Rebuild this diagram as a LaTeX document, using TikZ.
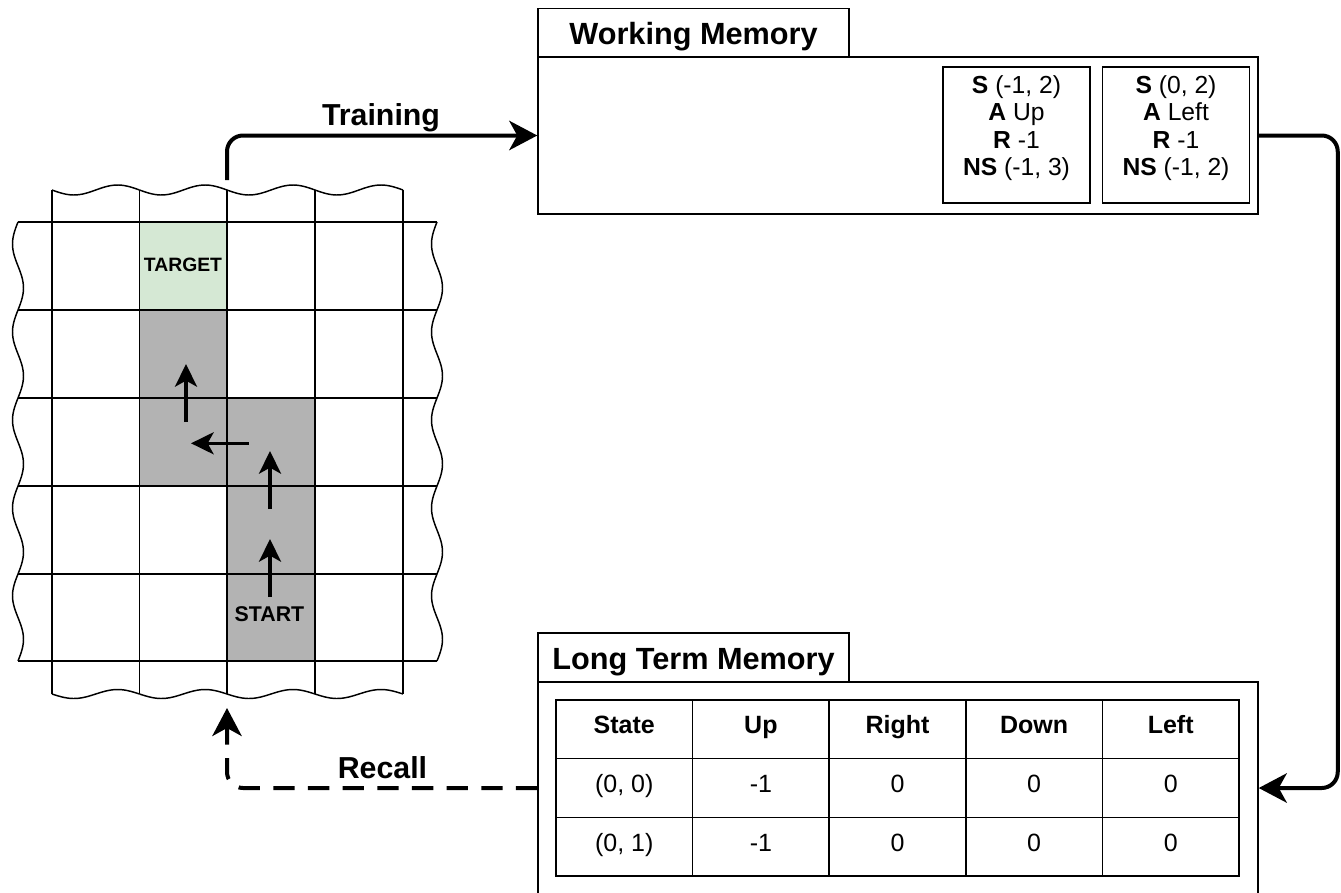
\documentclass[tikz,border=0pt]{standalone}
\usepackage{fontspec}
\setmainfont{Liberation Sans}
\usetikzlibrary{arrows.meta,fit,calc}
\definecolor{visitgray}{HTML}{B3B3B3}
\definecolor{tgtgreen}{HTML}{D5E8D4}
\begin{document}
\begin{tikzpicture}[x=0.75pt,y=-0.75pt,
  box/.style={draw, line width=1.1pt, inner sep=0pt},
  gridline/.style={line width=1.1pt, line join=round},
  hdr/.style={font=\bfseries\fontsize{23}{27}\selectfont, text height=21pt, text depth=3.4pt},
  lbl/.style={font=\bfseries\fontsize{22.75}{27}\selectfont, inner sep=0pt},
  cell/.style={box, minimum width=102.45pt, minimum height=44pt, font=\fontsize{18.75}{21}\selectfont, text height=12pt, text depth=5.2pt},
  hcell/.style={cell, font=\bfseries\fontsize{18.75}{21}\selectfont},
  wmbox/.style={box, minimum width=110pt, minimum height=102pt, align=center, font=\fontsize{18.5}{20.4}\selectfont},
  flow/.style={line width=3pt, rounded corners=12pt, -{Stealth[length=21pt,width=22pt,inset=6pt]}},
  dflow/.style={flow, dash pattern=on 16pt off 10pt},
  move/.style={line width=2.5pt, -{Stealth[length=17pt,width=16.5pt,inset=4.5pt]}},
  celltext/.style={font=\bfseries\fontsize{14.5}{17}\selectfont, inner sep=0pt, anchor=base}
]
\useasboundingbox (0,0) rectangle (1341,892);
\clip (0,0) rectangle (1341,892);

% ---------- grid world ----------
\fill[tgtgreen] (139.5,222) rectangle (227,310);
\fill[visitgray] (139.5,310) rectangle (227,486);
\fill[visitgray] (227,398) rectangle (315,661);

\foreach \y in {222,310,398,486,574,661} \draw[gridline] (18,\y) -- (437,\y);
\foreach \x in {52,139.5,227,315,403} \draw[gridline] (\x,190) -- (\x,694);
\foreach \xa/\xb in {52/139.5,139.5/227,227/315,315/403} {
  \draw[gridline] plot[domain=0:1,samples=30,smooth,variable=\t] ({\xa+(\xb-\xa)*\t},{190+5*sin(360*\t)});
  \draw[gridline] plot[domain=0:1,samples=30,smooth,variable=\t] ({\xa+(\xb-\xa)*\t},{694+4.5*sin(360*\t)});
}
\foreach \ya/\yb in {222/310,310/398,398/486,486/574,574/661} {
  \draw[gridline] plot[domain=0:1,samples=30,smooth,variable=\t] ({18-5.5*sin(360*\t)},{\ya+(\yb-\ya)*\t});
  \draw[gridline] plot[domain=0:1,samples=30,smooth,variable=\t] ({437-5.5*sin(360*\t)},{\ya+(\yb-\ya)*\t});
}

\node[celltext] (target) at (183,271.7) {TARGET};
\node[celltext, font=\bfseries\fontsize{16}{19}\selectfont] (start) at (269.5,621.7) {START};

% path of the agent
\coordinate (m1s) at (270,597); \coordinate (m1e) at (270,539);
\coordinate (m2s) at (270,509); \coordinate (m2e) at (270,451);
\coordinate (m3s) at (248.5,443.3); \coordinate (m3e) at (191,443.3);
\coordinate (m4s) at (186,422); \coordinate (m4e) at (186,364);
\draw[move] (m1s) -- (m1e);
\draw[move] (m2s) -- (m2e);
\draw[move] (m3s) -- (m3e);
\draw[move] (m4s) -- (m4e);

\coordinate (gtop) at (227,180);
\coordinate (gbot) at (227,708);

% ---------- working memory ----------
\node[box, fit={(538,57) (1258,214)}] (wm) {};
\node[box, hdr, minimum width=233.25pt, minimum height=36.5pt] (wmtab) at (693.5,32.6) {Working Memory};
\node[wmbox, minimum width=110.25pt] (wm1) at (1016.5,135) {\textbf{S} (-1, 2)\\ \textbf{A} Up\\ \textbf{R} -1\\ \textbf{NS} (-1, 3)\rule[-14.3pt]{0pt}{0pt}};
\node[wmbox] (wm2) at (1176,135) {\textbf{S} (0, 2)\\ \textbf{A} Left\\ \textbf{R} -1\\ \textbf{NS} (-1, 2)\rule[-14.3pt]{0pt}{0pt}};

% ---------- long term memory ----------
\node[box, fit={(538,682) (1258,894)}] (ltm) {};
\node[box, hdr, minimum width=233.25pt, minimum height=36.75pt] (ltmtab) at (693.5,657.5) {Long Term Memory};

\node[hcell] (h1) at (624.3,729.3) {State};
\node[hcell] (h2) at (760.9,729.3) {Up};
\node[hcell] (h3) at (897.5,729.3) {Right};
\node[hcell] (h4) at (1034.1,729.3) {Down};
\node[hcell] (h5) at (1170.7,729.3) {Left};
\node[cell] (a1) at (624.3,788) {(0, 0)};
\node[cell] (a2) at (760.9,788) {-1};
\node[cell] (a3) at (897.5,788) {0};
\node[cell] (a4) at (1034.1,788) {0};
\node[cell] (a5) at (1170.7,788) {0};
\node[cell] (b1) at (624.3,846.7) {(0, 1)};
\node[cell] (b2) at (760.9,846.7) {-1};
\node[cell] (b3) at (897.5,846.7) {0};
\node[cell] (b4) at (1034.1,846.7) {0};
\node[cell] (b5) at (1170.7,846.7) {0};

% ---------- connectors ----------
\draw[flow] (gtop) |- (wm.west);
\draw[flow] (wm.east) -- ++(79,0) |- (ltm.east);
\draw[dflow] (ltm.west) -| (gbot);

\node[lbl, anchor=base] (trainlbl) at (381,125) {Training};
\node[lbl, anchor=base] (recalllbl) at (382.5,778) {Recall};
\end{tikzpicture}
\end{document}
